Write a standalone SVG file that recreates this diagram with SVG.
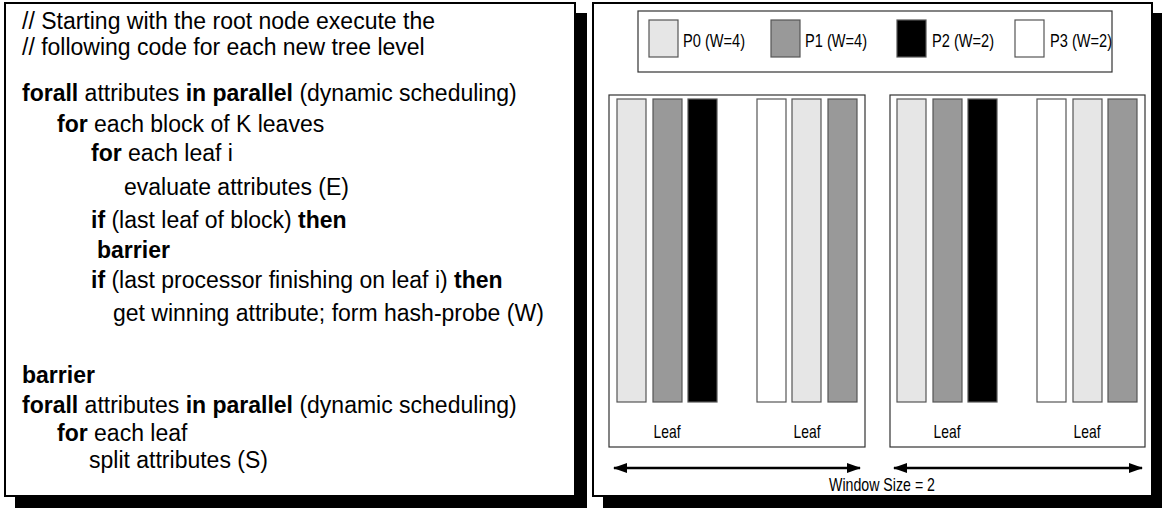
<svg xmlns="http://www.w3.org/2000/svg" width="1163" height="508" viewBox="0 0 1163 508">
  <defs>
    <marker id="ah" viewBox="0 0 14 10" refX="13" refY="5" markerWidth="14" markerHeight="10" markerUnits="userSpaceOnUse" orient="auto-start-reverse">
      <path d="M0,0 L14,5 L0,10 Z" fill="#000"/>
    </marker>
    <style>
      .shadow { fill: #000; }
      .panel { fill: #fff; stroke: #000; stroke-width: 2; }
      .code { font-family: "Liberation Sans", Arial, sans-serif; font-size: 23px; fill: #000; }
      .b { font-weight: bold; }
      .lbl { font-family: "Liberation Sans", Arial, sans-serif; font-size: 19px; fill: #000; }
      .frame { fill: #fff; stroke: #333; stroke-width: 1.2; }
      .sw { stroke: #555; stroke-width: 1.2; }
      .p0 { fill: #e6e6e6; }
      .p1 { fill: #999999; }
      .p2 { fill: #000000; }
      .p3 { fill: #ffffff; }
      .arrow { stroke: #000; stroke-width: 2.5; fill: none; marker-start: url(#ah); marker-end: url(#ah); }
    </style>
  </defs>

  <!-- left panel: pseudo-code -->
  <g id="code-panel">
    <rect class="shadow" x="15" y="13" width="572" height="495"/>
    <rect class="panel" x="5" y="3" width="570" height="493"/>
    <text class="code" x="22" y="29">// Starting with the root node execute the</text>
    <text class="code" x="22" y="55">// following code for each new tree level</text>
    <text class="code" x="22" y="101"><tspan class="b">forall</tspan> attributes <tspan class="b">in parallel</tspan> (dynamic scheduling)</text>
    <text class="code" x="57" y="132"><tspan class="b">for</tspan> each block of K leaves</text>
    <text class="code" x="91" y="161"><tspan class="b">for</tspan> each leaf i</text>
    <text class="code" x="124" y="195">evaluate attributes (E)</text>
    <text class="code" x="91" y="228"><tspan class="b">if</tspan>  (last leaf of block)  <tspan class="b">then</tspan></text>
    <text class="code b" x="97" y="258">barrier</text>
    <text class="code" x="91" y="288"><tspan class="b">if</tspan>  (last processor finishing on leaf i)  <tspan class="b">then</tspan></text>
    <text class="code" x="113" y="321">get winning attribute; form hash-probe (W)</text>
    <text class="code b" x="22" y="383">barrier</text>
    <text class="code" x="22" y="413"><tspan class="b">forall</tspan> attributes <tspan class="b">in parallel</tspan> (dynamic scheduling)</text>
    <text class="code" x="57" y="441"><tspan class="b">for</tspan> each leaf</text>
    <text class="code" x="89" y="468">split attributes (S)</text>
  </g>

  <!-- right panel frame -->
  <g id="schedule-panel">
    <rect class="shadow" x="603" y="13" width="559" height="495"/>
    <rect class="panel" x="593" y="3" width="559" height="493"/>
  </g>

  <!-- legend -->
  <g id="legend">
    <rect class="frame" x="638" y="11" width="474" height="61"/>
    <rect class="sw p0" x="649" y="20" width="29" height="37"/>
    <text class="lbl" x="683" y="47" textLength="62" lengthAdjust="spacingAndGlyphs">P0 (W=4)</text>
    <rect class="sw p1" x="771" y="20" width="29" height="37"/>
    <text class="lbl" x="805" y="47" textLength="62" lengthAdjust="spacingAndGlyphs">P1 (W=4)</text>
    <rect class="sw p2" x="897" y="20" width="29" height="37"/>
    <text class="lbl" x="932" y="47" textLength="62" lengthAdjust="spacingAndGlyphs">P2 (W=2)</text>
    <rect class="sw p3" x="1015" y="20" width="29" height="37"/>
    <text class="lbl" x="1050" y="47" textLength="62" lengthAdjust="spacingAndGlyphs">P3 (W=2)</text>
  </g>

  <!-- window 1 -->
  <g id="window-1">
    <rect class="frame" x="609" y="95" width="256" height="352"/>
    <rect class="sw p0" x="617" y="99" width="29" height="303"/>
    <rect class="sw p1" x="653" y="99" width="29" height="303"/>
    <rect class="sw p2" x="688" y="99" width="29" height="303"/>
    <rect class="sw p3" x="757" y="99" width="29" height="303"/>
    <rect class="sw p0" x="792" y="99" width="29" height="303"/>
    <rect class="sw p1" x="828" y="99" width="29" height="303"/>
    <text class="lbl" x="667" y="438" text-anchor="middle" textLength="27" lengthAdjust="spacingAndGlyphs">Leaf</text>
    <text class="lbl" x="807" y="438" text-anchor="middle" textLength="27" lengthAdjust="spacingAndGlyphs">Leaf</text>
  </g>

  <!-- window 2 -->
  <g id="window-2">
    <rect class="frame" x="890" y="95" width="255" height="352"/>
    <rect class="sw p0" x="897" y="99" width="29" height="303"/>
    <rect class="sw p1" x="933" y="99" width="29" height="303"/>
    <rect class="sw p2" x="968" y="99" width="29" height="303"/>
    <rect class="sw p3" x="1037" y="99" width="29" height="303"/>
    <rect class="sw p0" x="1073" y="99" width="29" height="303"/>
    <rect class="sw p1" x="1108" y="99" width="29" height="303"/>
    <text class="lbl" x="947" y="438" text-anchor="middle" textLength="27" lengthAdjust="spacingAndGlyphs">Leaf</text>
    <text class="lbl" x="1087" y="438" text-anchor="middle" textLength="27" lengthAdjust="spacingAndGlyphs">Leaf</text>
  </g>

  <!-- window extent arrows -->
  <g id="connectors">
    <line class="arrow" x1="614" y1="468" x2="860" y2="468"/>
    <line class="arrow" x1="894" y1="468" x2="1142" y2="468"/>
  </g>
  <g id="window-size">
    <text class="lbl" x="882" y="491" text-anchor="middle" textLength="106" lengthAdjust="spacingAndGlyphs">Window Size = 2</text>
  </g>
</svg>
